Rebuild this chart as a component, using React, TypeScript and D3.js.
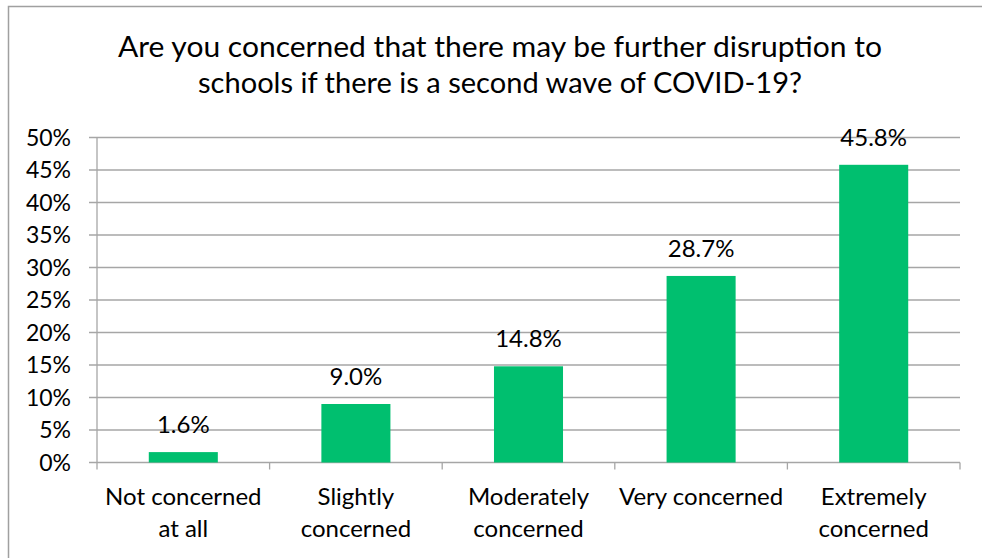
import React from "react";
import * as d3 from "d3";

const categories: string[][] = [
  ["Not concerned", "at all"],
  ["Slightly", "concerned"],
  ["Moderately", "concerned"],
  ["Very concerned"],
  ["Extremely", "concerned"],
];
const values: number[] = [1.6, 9.0, 14.8, 28.7, 45.8];
const yTicks: number[] = [0, 5, 10, 15, 20, 25, 30, 35, 40, 45, 50];
const titleLines: string[] = [
  "Are you concerned that there may be further disruption to",
  "schools if there is a second wave of COVID-19?",
];
const titleWidths: number[] = [764, 604];

const W = 982;
const H = 558;
const FONT = "Lato, 'Open Sans', sans-serif";
const BAR = "#00BF6F";
const GRID = "#A6A6A6";

export default function App() {
  const left = 97;
  const right = 960;
  const top = 137.5;
  const bottom = 462.5;
  const x = d3
    .scaleBand<number>()
    .domain(d3.range(values.length))
    .range([left, right])
    .paddingInner(0.6)
    .paddingOuter(0.3);
  const band = (right - left) / values.length;
  const y = d3.scaleLinear().domain([0, 50]).range([bottom, top]);
  const fmt = (v: number) => `${v.toFixed(1)}%`;

  return (
    <svg
      width={W}
      height={H}
      style={{ position: "absolute", left: 0, top: 0, background: "#fff" }}
      fontFamily={FONT}
    >
      <rect x={8.5} y={6.5} width={1100} height={700} fill="#fff" stroke="#A0A0A0" strokeWidth={1.5} />
      {titleLines.map((t, i) => (
        <text
          key={i}
          x={500}
          y={57 + i * 36}
          textAnchor="middle"
          fontSize={29}
          fill="#000"
          textLength={titleWidths[i]}
          lengthAdjust="spacingAndGlyphs"
        >
          {t}
        </text>
      ))}
      {yTicks.map((t) => (
        <g key={t}>
          <line x1={89} x2={right} y1={y(t)} y2={y(t)} stroke={GRID} strokeWidth={1.3} />
          <text x={71} y={y(t)} dy="0.35em" textAnchor="end" fontSize={23} fill="#000">
            {`${t}%`}
          </text>
        </g>
      ))}
      <line x1={left} x2={left} y1={top} y2={bottom} stroke={GRID} strokeWidth={1.3} />
      {d3.range(values.length + 1).map((i) => (
        <line
          key={i}
          x1={left + i * band}
          x2={left + i * band}
          y1={bottom}
          y2={bottom + 7}
          stroke={GRID}
          strokeWidth={1.3}
        />
      ))}
      {values.map((v, i) => (
        <g key={i}>
          <rect x={x(i)!} y={y(v)} width={x.bandwidth()} height={bottom - y(v)} fill={BAR} />
          <text
            x={x(i)! + x.bandwidth() / 2}
            y={y(v) - 19}
            textAnchor="middle"
            fontSize={24}
            fill="#000"
          >
            {fmt(v)}
          </text>
          <text textAnchor="middle" fontSize={24} fill="#000">
            {categories[i].map((c, j) => (
              <tspan key={j} x={x(i)! + x.bandwidth() / 2} y={505 + j * 32}>
                {c}
              </tspan>
            ))}
          </text>
        </g>
      ))}
    </svg>
  );
}
